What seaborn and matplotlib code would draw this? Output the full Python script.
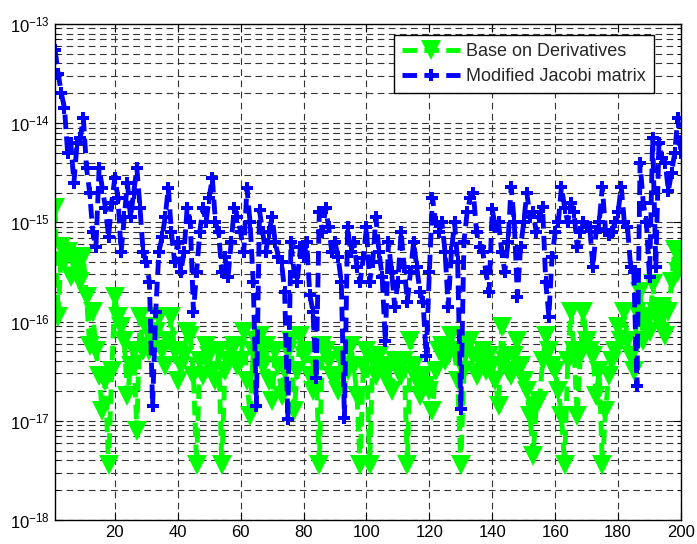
import numpy as np
import pandas as pd
import seaborn as sns
from matplotlib import pyplot as plt
import matplotlib.ticker as ticker

# sample index 1..200
idx = list(range(1, 201))

# log10 of the error, index 1..200
blue_log = [
    -13.26, -13.5, -13.7, -13.85, -14.3, -14.2, -14.6, -14.2, -14.15, -13.95,
    -14.45, -14.7, -15.1, -15.25, -14.45, -14.65, -14.85, -15.15, -14.8, -14.55,
    -14.75, -15.3, -14.95, -14.6, -14.95, -14.7, -14.45, -14.85, -15.3, -15.4,
    -15.6, -16.85, -15.9, -15.3, -15.15, -14.95, -14.65, -15.1, -15.4, -15.2,
    -15.5, -15.3, -14.85, -15.0, -15.9, -15.5, -15.1, -14.85, -15.0, -14.75,
    -14.55, -15.0, -15.1, -15.5, -15.35, -15.55, -15.2, -14.85, -14.95, -15.1,
    -15.3, -14.65, -15.0, -15.6, -16.85, -14.88, -15.1, -15.3, -15.1, -14.95,
    -15.2, -15.35, -15.4, -15.7, -16.98, -15.2, -15.5, -15.6, -15.25, -15.35,
    -15.2, -15.73, -15.9, -16.57, -14.9, -15.1, -14.85, -15.05, -15.3, -15.2,
    -15.35, -15.6, -16.97, -15.05, -15.3, -15.2, -15.45, -15.6, -15.36, -15.05,
    -15.6, -15.4, -14.95, -15.3, -15.55, -16.2, -15.2, -15.5, -15.85, -15.6,
    -15.1, -15.45, -15.8, -15.5, -15.2, -15.45, -15.7, -15.8, -16.35, -15.5,
    -14.75, -15.0, -15.1, -15.0, -15.3, -15.85, -15.3, -15.0, -15.4, -16.88,
    -15.2, -14.9, -14.75, -14.7, -15.1, -15.25, -15.3, -15.5, -15.7, -14.87,
    -15.05, -15.0, -15.3, -15.5, -15.2, -14.64, -15.0, -15.75, -15.25, -15.0,
    -14.7, -14.95, -14.9, -15.1, -14.95, -14.84, -15.6, -15.95, -15.35, -15.1,
    -15.0, -14.64, -14.85, -15.0, -14.8, -14.9, -15.25, -15.1, -15.0, -15.05,
    -15.05, -15.45, -15.1, -15.0, -14.64, -15.08, -15.13, -15.1, -15.0, -14.9,
    -14.64, -15.0, -15.05, -15.45, -15.5, -16.65, -14.4, -14.8, -15.0, -15.55,
    -14.15, -15.45, -14.2, -14.35, -14.4, -14.68, -14.5, -14.3, -13.95, -14.3,
]

green_log = [
    -14.85, -15.95, -15.25, -15.4, -15.3, -15.55, -15.35, -15.45, -15.6, -15.35,
    -15.75, -16.25, -15.9, -16.3, -16.55, -16.9, -16.6, -17.45, -16.5, -15.75,
    -15.95, -16.05, -16.2, -16.75, -16.45, -16.3, -17.1, -15.95, -16.3, -16.05,
    -16.3, -16.2, -16.1, -15.95, -16.3, -16.45, -16.2, -15.95, -16.3, -16.6,
    -16.45, -16.35, -16.1, -16.15, -16.55, -17.45, -16.4, -16.55, -16.25, -16.35,
    -16.5, -16.6, -16.3, -17.45, -16.5, -16.4, -16.3, -16.25, -16.45, -16.4,
    -16.1, -16.6, -16.95, -16.3, -16.2, -16.15, -16.45, -16.25, -16.6, -16.8,
    -16.3, -16.45, -16.75, -16.5, -16.3, -16.2, -16.9, -16.5, -16.15, -16.35,
    -16.3, -16.55, -16.7, -16.45, -17.45, -16.25, -16.3, -16.4, -16.55, -16.6,
    -16.7, -16.35, -16.45, -16.5, -16.25, -16.45, -16.75, -17.45, -16.45, -16.3,
    -17.45, -16.35, -16.55, -16.35, -16.5, -16.55, -16.45, -16.7, -16.4, -16.5,
    -16.55, -16.4, -17.45, -16.2, -16.45, -16.6, -16.75, -16.55, -16.65, -16.7,
    -16.9, -16.5, -16.3, -16.25, -16.4, -16.35, -16.15, -16.3, -16.6, -17.45,
    -16.5, -16.25, -16.2, -16.35, -16.55, -16.4, -16.3, -16.5, -16.35, -16.45,
    -16.6, -16.85, -16.05, -16.4, -16.5, -16.55, -16.35, -16.2, -16.45, -16.6,
    -16.7, -16.95, -17.35, -16.85, -16.8, -16.4, -16.15, -16.3, -16.45, -16.5,
    -16.7, -16.95, -17.45, -16.4, -15.9, -16.3, -16.95, -16.35, -15.9, -16.2,
    -16.3, -16.35, -16.75, -16.5, -17.45, -16.9, -16.55, -16.4, -16.3, -16.05,
    -16.2, -15.9, -16.2, -16.35, -16.5, -15.9, -15.7, -16.2, -15.95, -16.1,
    -15.62, -15.9, -16.0, -15.85, -16.15, -15.9, -15.6, -15.28, -15.5, -15.3,
]

xticks = [20, 40, 60, 80, 100, 120, 140, 160, 180, 200]
ydecades = [-18, -17, -16, -15, -14, -13]
labels = ['Base on Derivatives', 'Modified Jacobi matrix']


def plot():
    sns.set_style('ticks')
    plt.rcParams['font.family'] = ['Liberation Sans', 'DejaVu Sans']
    plt.rcParams['mathtext.fontset'] = 'custom'
    plt.rcParams['mathtext.rm'] = 'Liberation Sans'
    plt.rcParams['mathtext.it'] = 'Liberation Sans'

    df = pd.DataFrame({'idx': idx,
                       'green': np.power(10.0, green_log),
                       'blue': np.power(10.0, blue_log)})

    fig = plt.figure(figsize=(6.97, 5.44), dpi=100)
    ax = fig.add_axes([0.079, 0.044, 0.898, 0.912])

    sns.lineplot(data=df, x='idx', y='green', ax=ax, color='#00ff00',
                 linestyle=(0, (3, 1.5)), linewidth=3.5, marker='v',
                 markersize=14, markeredgewidth=0, label=labels[0])
    sns.lineplot(data=df, x='idx', y='blue', ax=ax, color='#0000ff',
                 linestyle=(0, (3, 1.5)), linewidth=3.5, marker='P',
                 markersize=9, markeredgewidth=0, label=labels[1])

    ax.set_yscale('log')
    ax.set_ylim(1e-18, 1e-13)
    ax.set_xlim(1, 200)
    ax.set_xticks(xticks)
    ax.xaxis.set_minor_locator(ticker.NullLocator())

    # fixed decade ticks so nothing is placed outside the view
    major = [10.0 ** d for d in ydecades]
    minor = [m * 10.0 ** d for d in ydecades[:-1] for m in range(2, 10)]
    ax.yaxis.set_major_locator(ticker.FixedLocator(major))
    ax.yaxis.set_minor_locator(ticker.FixedLocator(minor))
    ax.set_yticklabels([f'$10^{{{d}}}$' for d in ydecades])
    ax.yaxis.set_minor_formatter(ticker.NullFormatter())
    ax.set_xlabel('')
    ax.set_ylabel('')

    ax.set_axisbelow(True)
    ax.grid(True, which='major', axis='both', color='#333333',
            linestyle=(0, (6, 4)), linewidth=0.8)
    ax.grid(True, which='minor', axis='y', color='#333333',
            linestyle=(0, (6, 4)), linewidth=0.8)

    ax.tick_params(which='both', direction='in', top=True, right=True,
                   labelsize=12, colors='black')
    ax.tick_params(which='major', length=6)
    ax.tick_params(which='minor', length=3)
    for s in ax.spines.values():
        s.set_visible(True)
        s.set_color('black')
        s.set_linewidth(1)

    leg = ax.legend(loc='upper right', bbox_to_anchor=(0.957, 0.978),
                    fontsize=13, frameon=True, fancybox=False,
                    handlelength=3.2, borderpad=0.45, labelspacing=0.45,
                    handletextpad=0.35, borderaxespad=0)
    leg.get_frame().set_edgecolor('black')
    leg.get_frame().set_linewidth(1)
    leg.get_frame().set_alpha(1)

    plt.savefig('out.png', dpi=100)


def main():
    plot()


if __name__ == "__main__":
    main()
